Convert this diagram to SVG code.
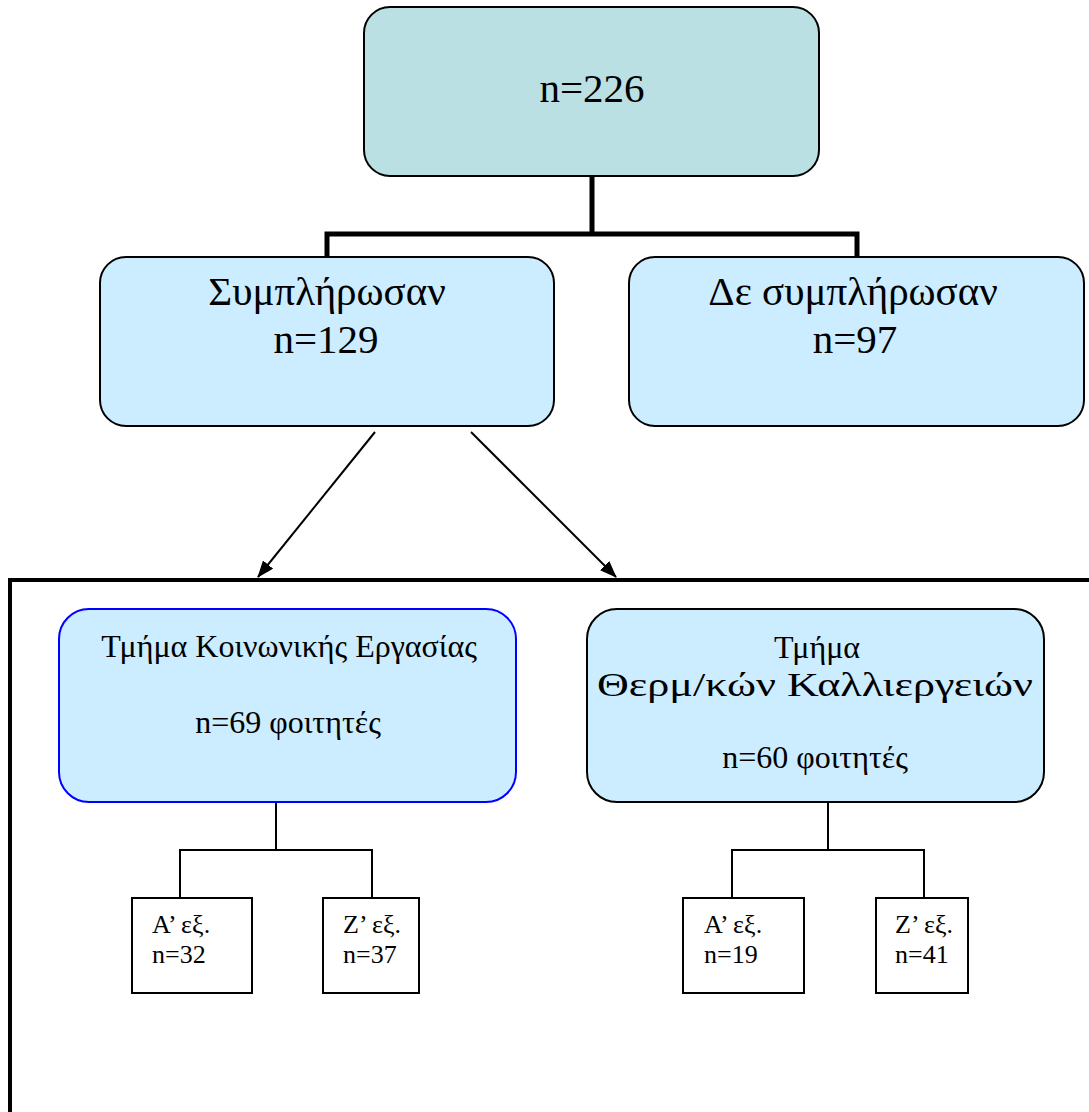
<svg xmlns="http://www.w3.org/2000/svg" width="1089" height="1112" viewBox="0 0 1089 1112">
<style>
text{font-family:"Liberation Serif","Times New Roman",serif;fill:#000}
.big{font-size:41px;text-anchor:middle}
.mid{font-size:32px;text-anchor:middle}
.sm{font-size:26px}
.box{fill:#CCECFF;stroke:#000;stroke-width:2}
.leaf{fill:#fff;stroke:#000;stroke-width:2}
.thick{stroke:#000;stroke-width:5;fill:none}
.thin{stroke:#000;stroke-width:2;fill:none}
</style>
<defs>
<marker id="ah" markerWidth="17" markerHeight="13" refX="16" refY="6.5" orient="auto" markerUnits="userSpaceOnUse">
<path d="M0,0 L17,6.5 L0,13 z" fill="#000"/>
</marker>
</defs>
<rect width="1089" height="1112" fill="#fff"/>
<g id="connectors">
<path class="thick" d="M592,176 V234 M327,258 V234 H857 V258"/>
<line x1="375" y1="432" x2="258" y2="577" stroke="#000" stroke-width="2" marker-end="url(#ah)"/>
<line x1="471" y1="432" x2="616" y2="577" stroke="#000" stroke-width="2" marker-end="url(#ah)"/>
<path class="thin" d="M276,802 V850 M180,898 V850 H372 V898"/>
<path class="thin" d="M828,802 V850 M732,898 V850 H924 V898"/>
</g>
<g id="frame">
<path d="M10,1112 V580 H1089" stroke="#000" stroke-width="4" fill="none"/>
</g>
<g id="n226">
<rect x="364" y="7" width="455" height="169" rx="26" fill="#BBE0E3" stroke="#000" stroke-width="2"/>
<text class="big" x="592" y="102">n=226</text>
</g>
<g id="completed">
<rect class="box" x="100" y="257" width="454" height="169" rx="26"/>
<text class="big" x="327" y="305">Συμπλήρωσαν</text>
<text class="big" x="326" y="353">n=129</text>
</g>
<g id="not-completed">
<rect class="box" x="629" y="257" width="455" height="169" rx="26"/>
<text class="big" x="853" y="305">Δε συμπλήρωσαν</text>
<text class="big" x="855" y="353">n=97</text>
</g>
<g id="social-work">
<rect x="59" y="609" width="457" height="193" rx="30" fill="#CCECFF" stroke="#0000FF" stroke-width="2"/>
<text class="mid" x="289" y="657">Τμήμα Κοινωνικής Εργασίας</text>
<text class="mid" x="288" y="733">n=69 φοιτητές</text>
</g>
<g id="greenhouse">
<rect class="box" x="587" y="609" width="457" height="193" rx="30"/>
<text class="mid" x="817" y="658">Τμήμα</text>
<text class="mid" x="815" y="696" style="font-size:33px" textLength="436" lengthAdjust="spacingAndGlyphs">Θερμ/κών Καλλιεργειών</text>
<text class="mid" x="815" y="768">n=60 φοιτητές</text>
</g>
<g id="sw-a">
<rect class="leaf" x="132" y="898" width="120" height="95"/>
<text class="sm" x="152" y="933">A’ εξ.</text>
<text class="sm" x="152" y="963">n=32</text>
</g>
<g id="sw-z">
<rect class="leaf" x="323" y="898" width="96" height="95"/>
<text class="sm" x="343" y="933">Z’ εξ.</text>
<text class="sm" x="343" y="963">n=37</text>
</g>
<g id="gh-a">
<rect class="leaf" x="683" y="898" width="121" height="95"/>
<text class="sm" x="704" y="933">A’ εξ.</text>
<text class="sm" x="704" y="963">n=19</text>
</g>
<g id="gh-z">
<rect class="leaf" x="876" y="898" width="92" height="95"/>
<text class="sm" x="895" y="933">Z’ εξ.</text>
<text class="sm" x="895" y="963">n=41</text>
</g>
</svg>
